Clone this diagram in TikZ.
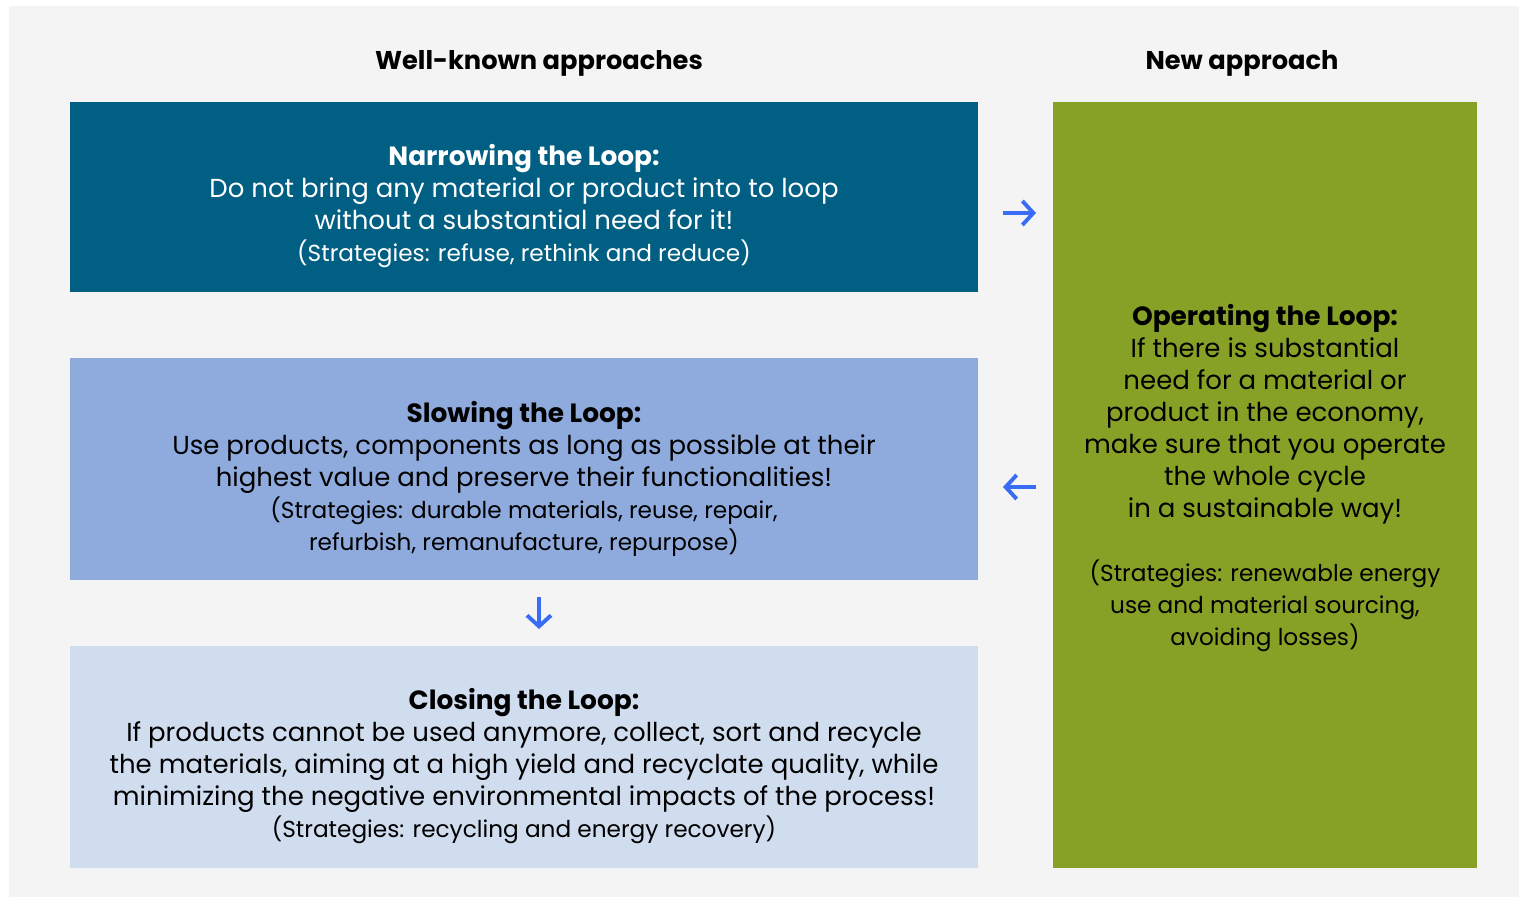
\documentclass[tikz,border=0pt]{standalone}
\usepackage{fontspec}
\setmainfont{Poppins}
\usetikzlibrary{arrows.meta,calc}
\definecolor{bggray}{HTML}{F4F4F4}
\definecolor{narrowc}{HTML}{005F83}
\definecolor{slowc}{HTML}{8FAADC}
\definecolor{closec}{HTML}{D0DDEF}
\definecolor{operc}{HTML}{87A126}
\definecolor{arrc}{HTML}{3A6DF5}
\tikzset{
  box/.style={draw=none, inner sep=0pt, outer sep=0pt},
  txt/.style={align=center, inner sep=0pt, font=\fontsize{26}{32}\selectfont},
  head/.style={font=\fontsize{25.7}{32}\selectfont\bfseries, inner sep=0pt},
  arr/.style={draw=arrc, line width=3.9pt, -{Straight Barb[length=11pt,width=24pt,line width=3.9pt]}},
}
\newcommand{\strat}{\fontsize{23.2}{32}\selectfont}
\newcommand{\ttl}[1]{{\fontsize{26.4}{32}\selectfont\bfseries #1}}
\begin{document}
\begin{tikzpicture}[x=1pt,y=-1pt]
\useasboundingbox (0,0) rectangle (1519,897);
\fill[white] (0,0) rectangle (1519,897);
\fill[bggray] (9,6) rectangle (1519,897);
% boxes
\fill[narrowc] (70,102) rectangle (978,292);
\fill[slowc] (70,358) rectangle (978,580);
\fill[closec] (70,646) rectangle (978,868);
\fill[operc] (1053,102) rectangle (1477,868);
\coordinate (narrowE) at (978,213);
\coordinate (operW) at (1053,213);
\coordinate (operW2) at (1053,487);
\coordinate (slowE) at (978,487);
\coordinate (slowS) at (539,580);
\coordinate (closeN) at (539,646);
% headers
\node[head] (h1) at (539,63) {Well-known approaches};
\node[head] (h2) at (1242,63) {New approach};
% texts
\node[txt, text=white] (narrow) at (524,206.5) {\ttl{Narrowing the Loop:}\\
Do not bring any material or product into to loop\\
without a substantial need for it!\\
{\strat (Strategies: refuse, rethink and reduce)}};
\node[txt] (slow) at (524,478.5) {\ttl{Slowing the Loop:}\\
Use products, components as long as possible at their\\
highest value and preserve their functionalities!\\
{\strat (Strategies: durable materials, reuse, repair,}\\
{\strat refurbish, remanufacture, repurpose)}};
\node[txt] (close) at (524,766.5) {\ttl{Closing the Loop:}\\
If products cannot be used anymore, collect, sort and recycle\\
the materials, aiming at a high yield and recyclate quality, while\\
minimizing the negative environmental impacts of the process!\\
{\strat (Strategies: recycling and energy recovery)}};
\node[txt] (oper) at (1265,478.5) {\ttl{Operating the Loop:}\\
If there is substantial\\
need for a material or\\
product in the economy,\\
make sure that you operate\\
the whole cycle\\
in a sustainable way!\\[32pt]
{\strat (Strategies: renewable energy}\\
{\strat use and material sourcing,}\\
{\strat avoiding losses)}};
% arrows
\draw[arr] ($(narrowE)+(25,0)$) -- ($(operW)+(-17,0)$);
\draw[arr] ($(operW2)+(-17,0)$) -- ($(slowE)+(25,0)$);
\draw[arr] ($(slowS)+(0,17)$) -- ($(closeN)+(0,-17)$);
\end{tikzpicture}
\end{document}
